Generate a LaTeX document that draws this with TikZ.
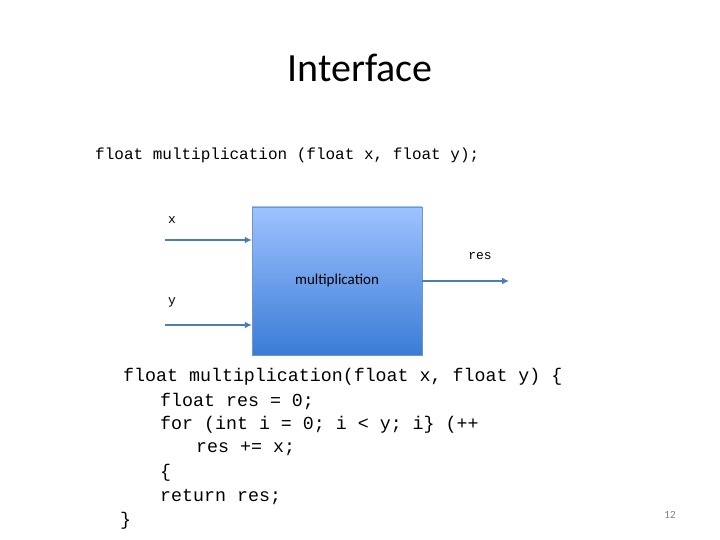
\documentclass[tikz,border=0pt]{standalone}
\usepackage{fontspec}
\usetikzlibrary{arrows.meta}
\setmainfont{Carlito}
\setmonofont{Liberation Mono}
\begin{document}
\begin{tikzpicture}[x=1pt,y=-1pt,
  code/.style={anchor=west,inner sep=0,font=\ttfamily\fontsize{18.3}{20}\selectfont},
  small/.style={inner sep=0,font=\ttfamily\fontsize{13}{15}\selectfont},
  arr/.style={draw={rgb,255:red,74;green,126;blue,187},line width=1.8pt,-{Latex[length=7pt,width=7pt]}}]
\useasboundingbox (0,0) rectangle (720,540);
\definecolor{boxtop}{RGB}{158,194,255}
\definecolor{boxbot}{RGB}{58,124,214}
\node[inner sep=0,font=\fontsize{40}{44}\selectfont] (title) at (360,68) {Interface};
\node[anchor=west,inner sep=0,font=\ttfamily\fontsize{16}{18}\selectfont] (sig) at (95,155) {float multiplication (float x, float y);};
\node[draw={rgb,255:red,110;green,150;blue,210},top color=boxtop,bottom color=boxbot,minimum width=170pt,minimum height=148pt,inner sep=0] (box) at (337,281) {};
\node[inner sep=0,font=\fontsize{15}{17}\selectfont] (lbl) at (337,281) {multiplication};
\coordinate (xs) at (165,240); \coordinate (xe) at (box.west |- xs);
\coordinate (ys) at (165,325); \coordinate (ye) at (box.west |- ys);
\coordinate (rs) at (box.east |- 0,281); \coordinate (re) at (509,281);
\draw[arr] (xs) -- (xe);
\draw[arr] (ys) -- (ye);
\draw[arr] (rs) -- (re);
\node[small] (lx) at (172,220) {x};
\node[small] (ly) at (172,302) {y};
\node[small] (lr) at (480,256) {res};
\node[code] (c1) at (123,377) {float multiplication(float x, float y) \{};
\node[code] (c2) at (160,401) {float res = 0;};
\node[code] (c3) at (160,425) {for (int i = 0; i < y; i\} (++};
\node[code] (c4) at (196,449) {res += x;};
\node[code] (c5) at (160,473) {\{};
\node[code] (c6) at (160,497) {return res;};
\node[code] (c7) at (120,521) {\}};
\node[inner sep=0,font=\fontsize{11}{13}\selectfont,text=gray] (pg) at (670,515) {12};
\end{tikzpicture}
\end{document}
